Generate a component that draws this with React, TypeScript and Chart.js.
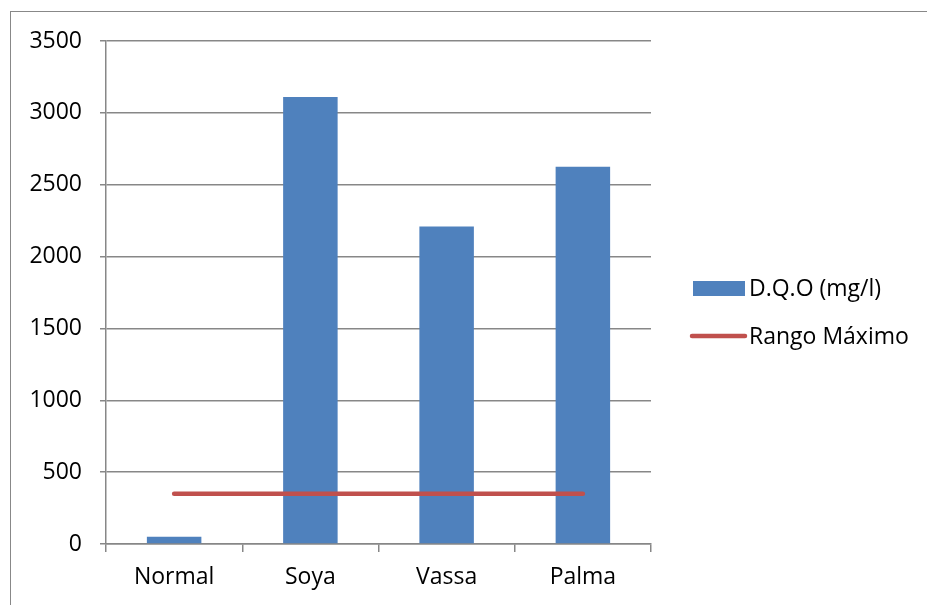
import React, { useEffect, useRef } from "react";
import { Chart, registerables } from "chart.js";

Chart.register(...registerables);

const categories = ["Normal", "Soya", "Vassa", "Palma"];
const dqoValues = [50, 3110, 2210, 2625];
const rangoMaximo = [350, 350, 350, 350];
const seriesNames = ["D.Q.O (mg/l)", "Rango Máximo"];
const yMin = 0;
const yMax = 3500;
const yStep = 500;

const BAR_COLOR = "#4F81BD";
const LINE_COLOR = "#C0504D";
const GRID_COLOR = "#878787";
const FONT = "'Open Sans', 'Noto Sans', sans-serif";

const legendPlugin = {
  id: "customLegend",
  afterDraw(chart: any) {
    const ctx = chart.ctx;
    ctx.save();
    ctx.font = `23px ${FONT}`;
    ctx.textBaseline = "middle";
    ctx.fillStyle = BAR_COLOR;
    ctx.fillRect(693, 281, 52, 15);
    ctx.fillStyle = "#000";
    ctx.fillText(seriesNames[0], 749, 289);
    ctx.strokeStyle = LINE_COLOR;
    ctx.lineWidth = 4.5;
    ctx.lineCap = "round";
    ctx.beginPath();
    ctx.moveTo(692, 336);
    ctx.lineTo(745, 336);
    ctx.stroke();
    ctx.fillText(seriesNames[1], 749, 337);
    ctx.restore();
  },
};

export default function App() {
  const ref = useRef<HTMLCanvasElement | null>(null);
  useEffect(() => {
    if (!ref.current) return;
    const chart = new Chart(ref.current, {
      type: "bar",
      data: {
        labels: categories,
        datasets: [
          {
            type: "line",
            label: seriesNames[1],
            data: rangoMaximo,
            borderColor: LINE_COLOR,
            backgroundColor: LINE_COLOR,
            borderWidth: 4.5,
            borderCapStyle: "round",
            pointRadius: 0,
            order: 0,
          } as any,
          {
            type: "bar",
            label: seriesNames[0],
            data: dqoValues,
            backgroundColor: BAR_COLOR,
            borderWidth: 0,
            barPercentage: 0.4,
            categoryPercentage: 1,
            order: 1,
          },
        ],
      },
      options: {
        responsive: false,
        animation: false,
        layout: { padding: { left: 10, right: 276, top: 41, bottom: 0 } },
        plugins: { legend: { display: false }, tooltip: { enabled: false } },
        scales: {
          x: {
            offset: true,
            grid: {
              offset: true,
              drawOnChartArea: false,
              drawTicks: true,
              tickLength: 8,
              color: GRID_COLOR,
              lineWidth: 1.5,
            },
            border: { display: true, color: GRID_COLOR, width: 1.5 },
            ticks: {
              color: "#000",
              font: { family: FONT, size: 23 },
              padding: 12,
              maxRotation: 0,
            },
            afterFit(scale: any) {
              scale.height = 61;
            },
          },
          y: {
            min: yMin,
            max: yMax,
            ticks: {
              stepSize: yStep,
              color: "#000",
              font: { family: FONT, size: 23 },
              padding: 18,
              callback: (v: any) => String(v),
            },
            grid: {
              color: GRID_COLOR,
              lineWidth: 1.5,
              tickLength: 6,
            },
            border: { display: true, color: GRID_COLOR, width: 1.5 },
            afterFit(scale: any) {
              scale.width = 96;
            },
          },
        },
      },
      plugins: [legendPlugin],
    });
    return () => chart.destroy();
  }, []);

  return (
    <div
      style={{
        position: "fixed",
        left: 0,
        top: 0,
        width: 927,
        height: 605,
        overflow: "hidden",
        background: "#fff",
      }}
    >
      <div
        style={{
          position: "absolute",
          left: 10,
          top: 11,
          width: 1000,
          height: 700,
          border: "1.5px solid #888",
        }}
      />
      <canvas
        ref={ref}
        width={927}
        height={605}
        style={{ position: "absolute", left: 0, top: 0, width: 927, height: 605 }}
      />
    </div>
  );
}
